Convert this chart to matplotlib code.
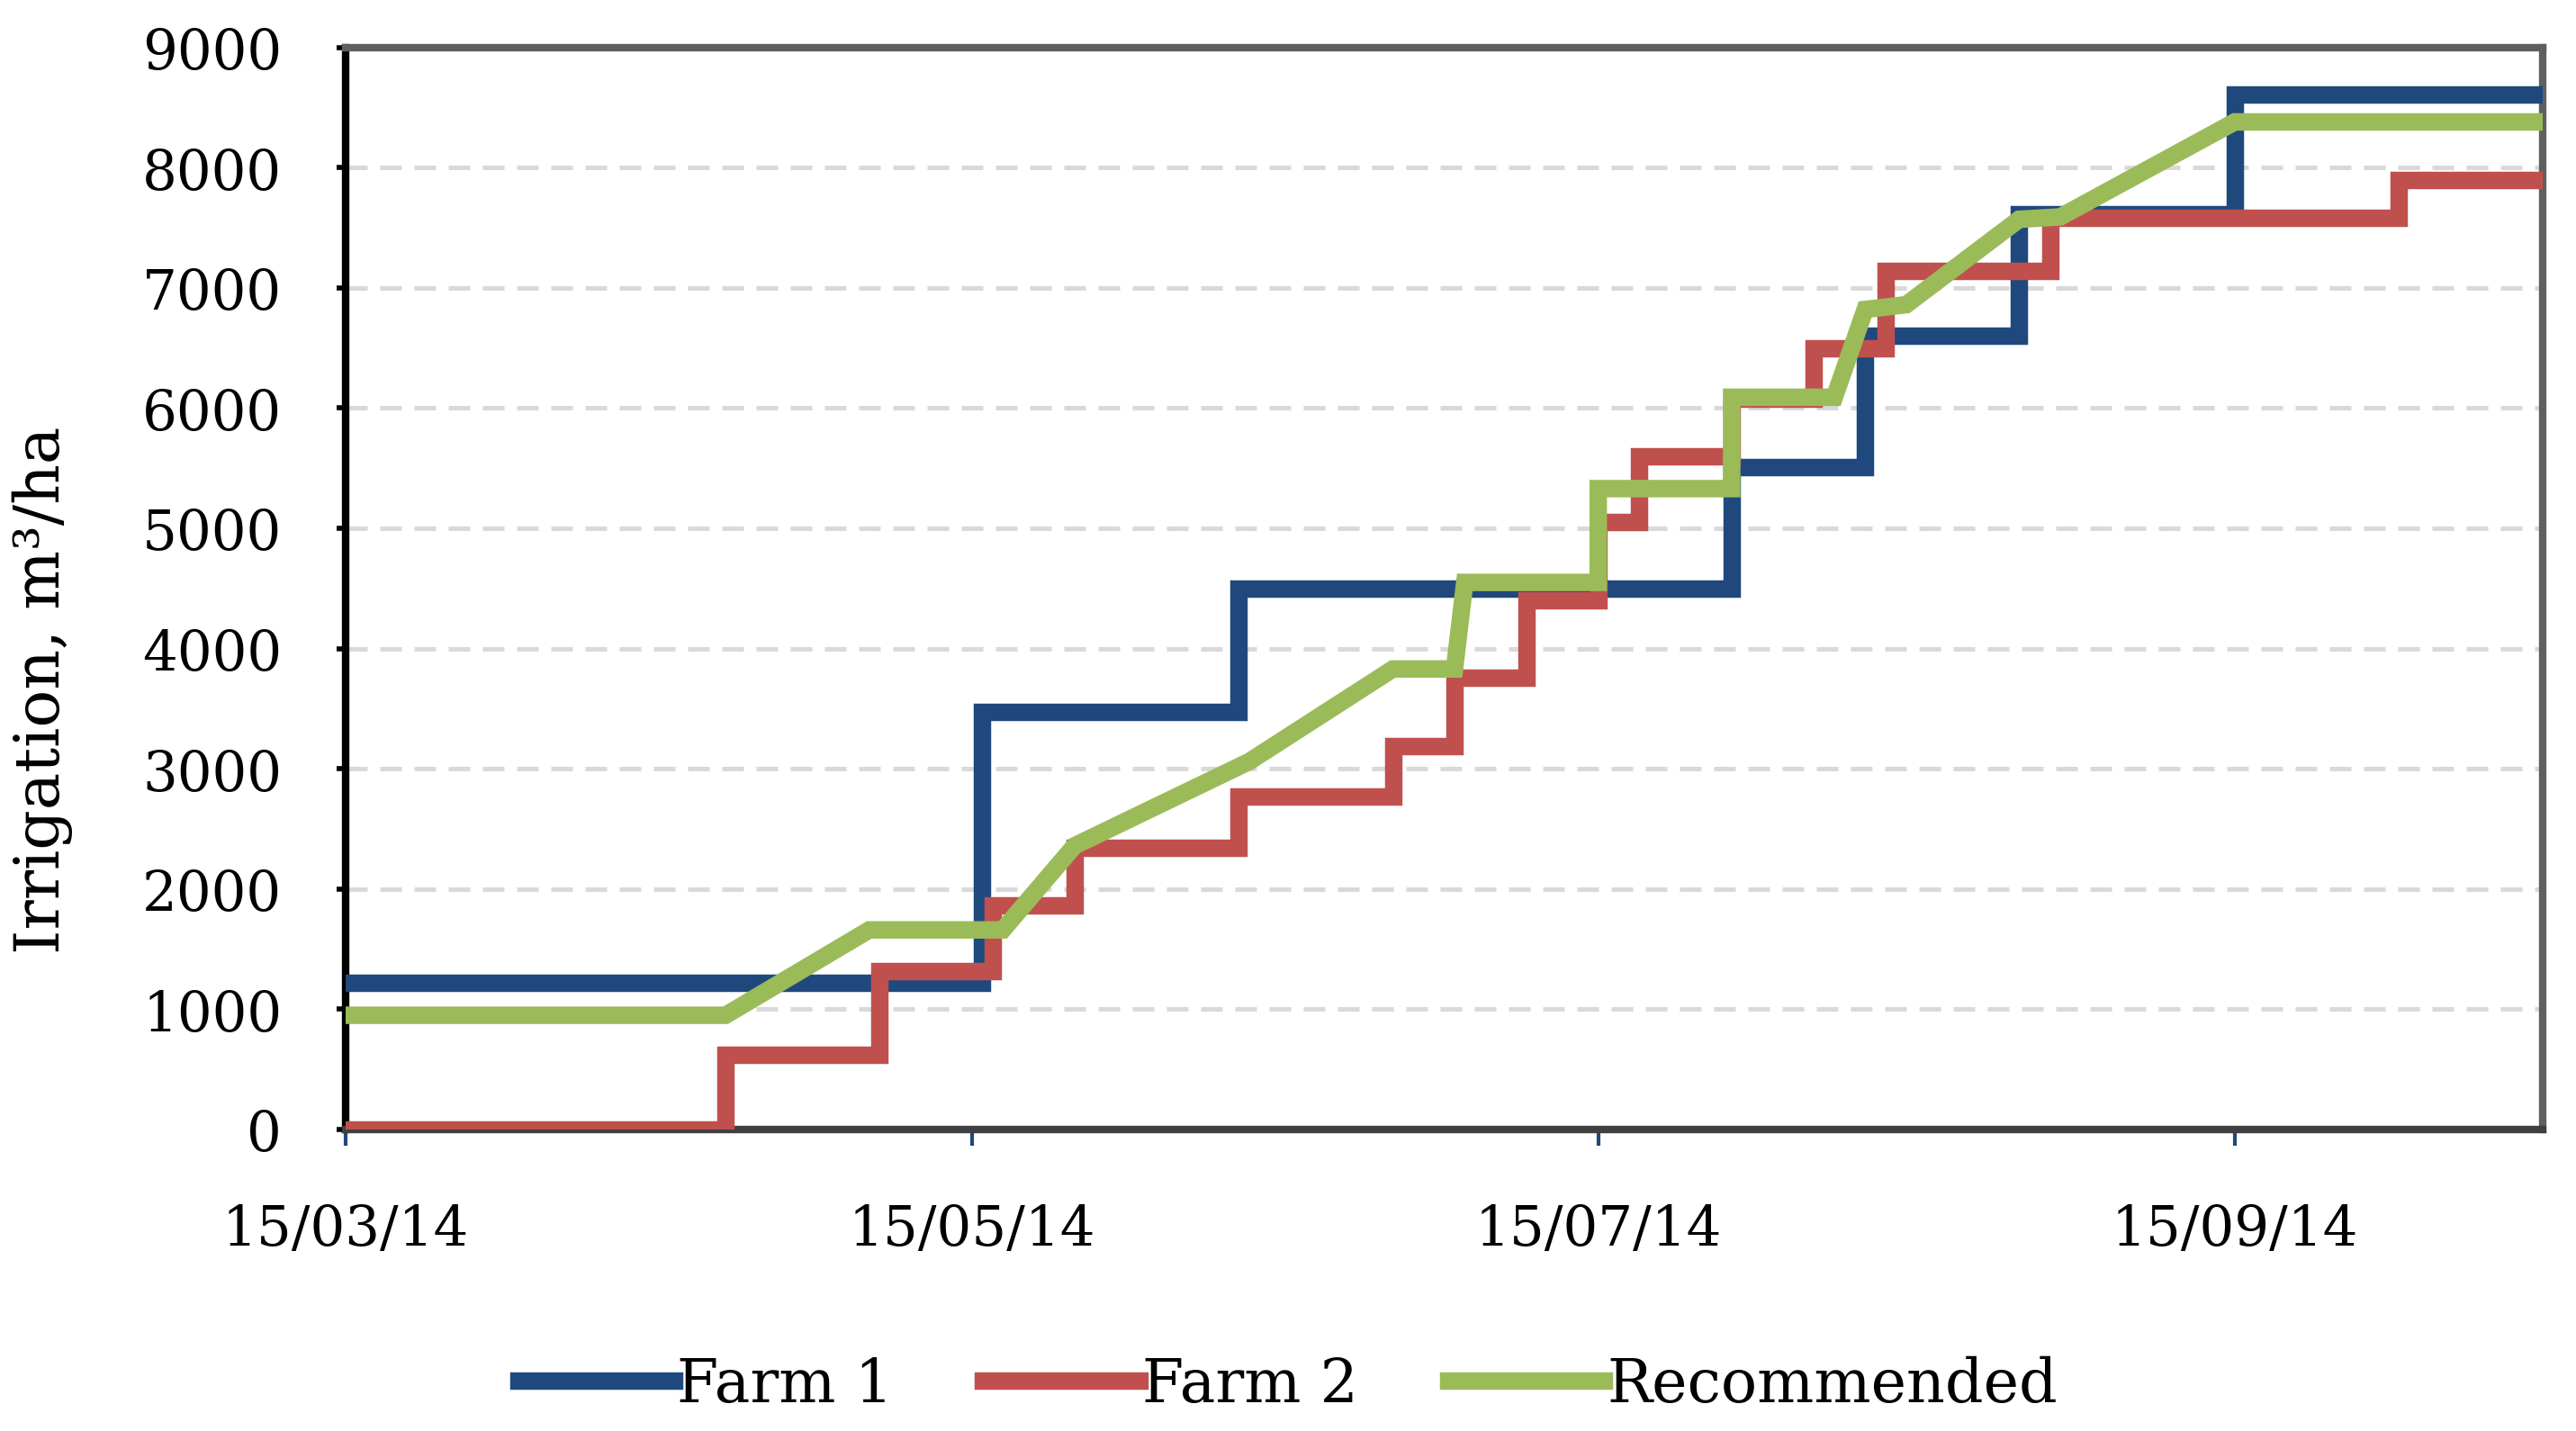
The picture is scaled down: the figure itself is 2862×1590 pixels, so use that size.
import numpy as np
import matplotlib
matplotlib.use('Agg')
from matplotlib import pyplot as plt
import matplotlib.dates as mdates
from matplotlib.ticker import FixedLocator

# cumulative irrigation, m3/ha
farm1_dates = ['2014-03-15', '2014-05-16', '2014-06-10', '2014-07-28', '2014-08-10',
               '2014-08-25', '2014-09-15', '2014-10-15']
farm1_values = [1220, 3470, 4500, 5510, 6600, 7610, 8610, 8610]

farm2_dates = ['2014-03-15', '2014-04-21', '2014-05-06', '2014-05-17', '2014-05-25',
               '2014-06-10', '2014-06-25', '2014-07-01', '2014-07-08', '2014-07-15',
               '2014-07-19', '2014-07-28', '2014-08-05', '2014-08-12', '2014-08-28',
               '2014-10-01', '2014-10-15']
farm2_values = [0, 620, 1320, 1860, 2340, 2770, 3190, 3760, 4400, 5050,
                5600, 6080, 6500, 7140, 7580, 7900, 7900]

rec_dates = ['2014-03-15', '2014-04-21', '2014-05-05', '2014-05-18', '2014-05-25',
             '2014-06-11', '2014-06-25', '2014-07-01', '2014-07-02', '2014-07-15',
             '2014-07-15', '2014-07-28', '2014-07-28', '2014-08-07', '2014-08-10',
             '2014-08-14', '2014-08-25', '2014-08-29', '2014-09-15', '2014-10-15']
rec_values = [950, 950, 1660, 1660, 2360, 3060, 3830, 3830, 4550, 4550,
              5330, 5330, 6090, 6090, 6820, 6860, 7570, 7590, 8380, 8380]

x_ticks = ['2014-03-15', '2014-05-15', '2014-07-15', '2014-09-15']
y_ticks = [0, 1000, 2000, 3000, 4000, 5000, 6000, 7000, 8000, 9000]
labels = ['Farm 1', 'Farm 2', 'Recommended']


def to_dates(values):
    return mdates.date2num(np.array(values, dtype='datetime64[D]'))


plt.rcParams['font.family'] = ['DejaVu Serif']
plt.rcParams['font.size'] = 22

fig = plt.figure(figsize=(14.31, 7.95), dpi=200)
ax = fig.add_axes([0.1342, 0.2107, 0.8529, 0.7562])

lw = 7
ax.plot(to_dates(farm1_dates), farm1_values, drawstyle='steps-post', color='#1F497D',
        lw=lw, label=labels[0], solid_joinstyle='miter', zorder=3)
ax.plot(to_dates(farm2_dates), farm2_values, drawstyle='steps-post', color='#C0504D',
        lw=lw, label=labels[1], solid_joinstyle='miter', zorder=4)
ax.plot(to_dates(rec_dates), rec_values, color='#9BBB59',
        lw=lw, label=labels[2], solid_joinstyle='miter', zorder=5)

ax.set_xlim(to_dates(['2014-03-15'])[0], to_dates(['2014-10-15'])[0])
ax.set_ylim(0, 9000)

ax.xaxis.set_major_locator(FixedLocator(to_dates(x_ticks)))
ax.xaxis.set_major_formatter(mdates.DateFormatter('%d/%m/%y'))
ax.yaxis.set_major_locator(FixedLocator(y_ticks))

ax.tick_params(axis='x', direction='out', length=6.5, width=1.5, color='#1F497D', pad=23)
ax.tick_params(axis='y', direction='out', length=3.5, width=2, color='black', pad=22)

for y in y_ticks[1:-1]:
    ax.axhline(y, color='#D9D9D9', lw=1.8, dashes=(4.8, 2.8), zorder=1)

for side in ['top', 'right']:
    ax.spines[side].set_color('#5F5F5F')
    ax.spines[side].set_linewidth(3)
ax.spines['left'].set_color('black')
ax.spines['left'].set_linewidth(3)
ax.spines['bottom'].set_color('#404040')
ax.spines['bottom'].set_linewidth(3)

ax.set_ylabel('Irrigation, m³/ha', fontsize=25)
ax.yaxis.set_label_coords(-0.124, 0.406)

handles, lab = ax.get_legend_handles_labels()
fig.legend(handles, lab, loc='center', bbox_to_anchor=(0.5, 0.032), ncol=3,
           frameon=False, handlelength=2.6, handletextpad=0.05, columnspacing=1.5,
           fontsize=24)

plt.savefig('out.png', dpi=200)
